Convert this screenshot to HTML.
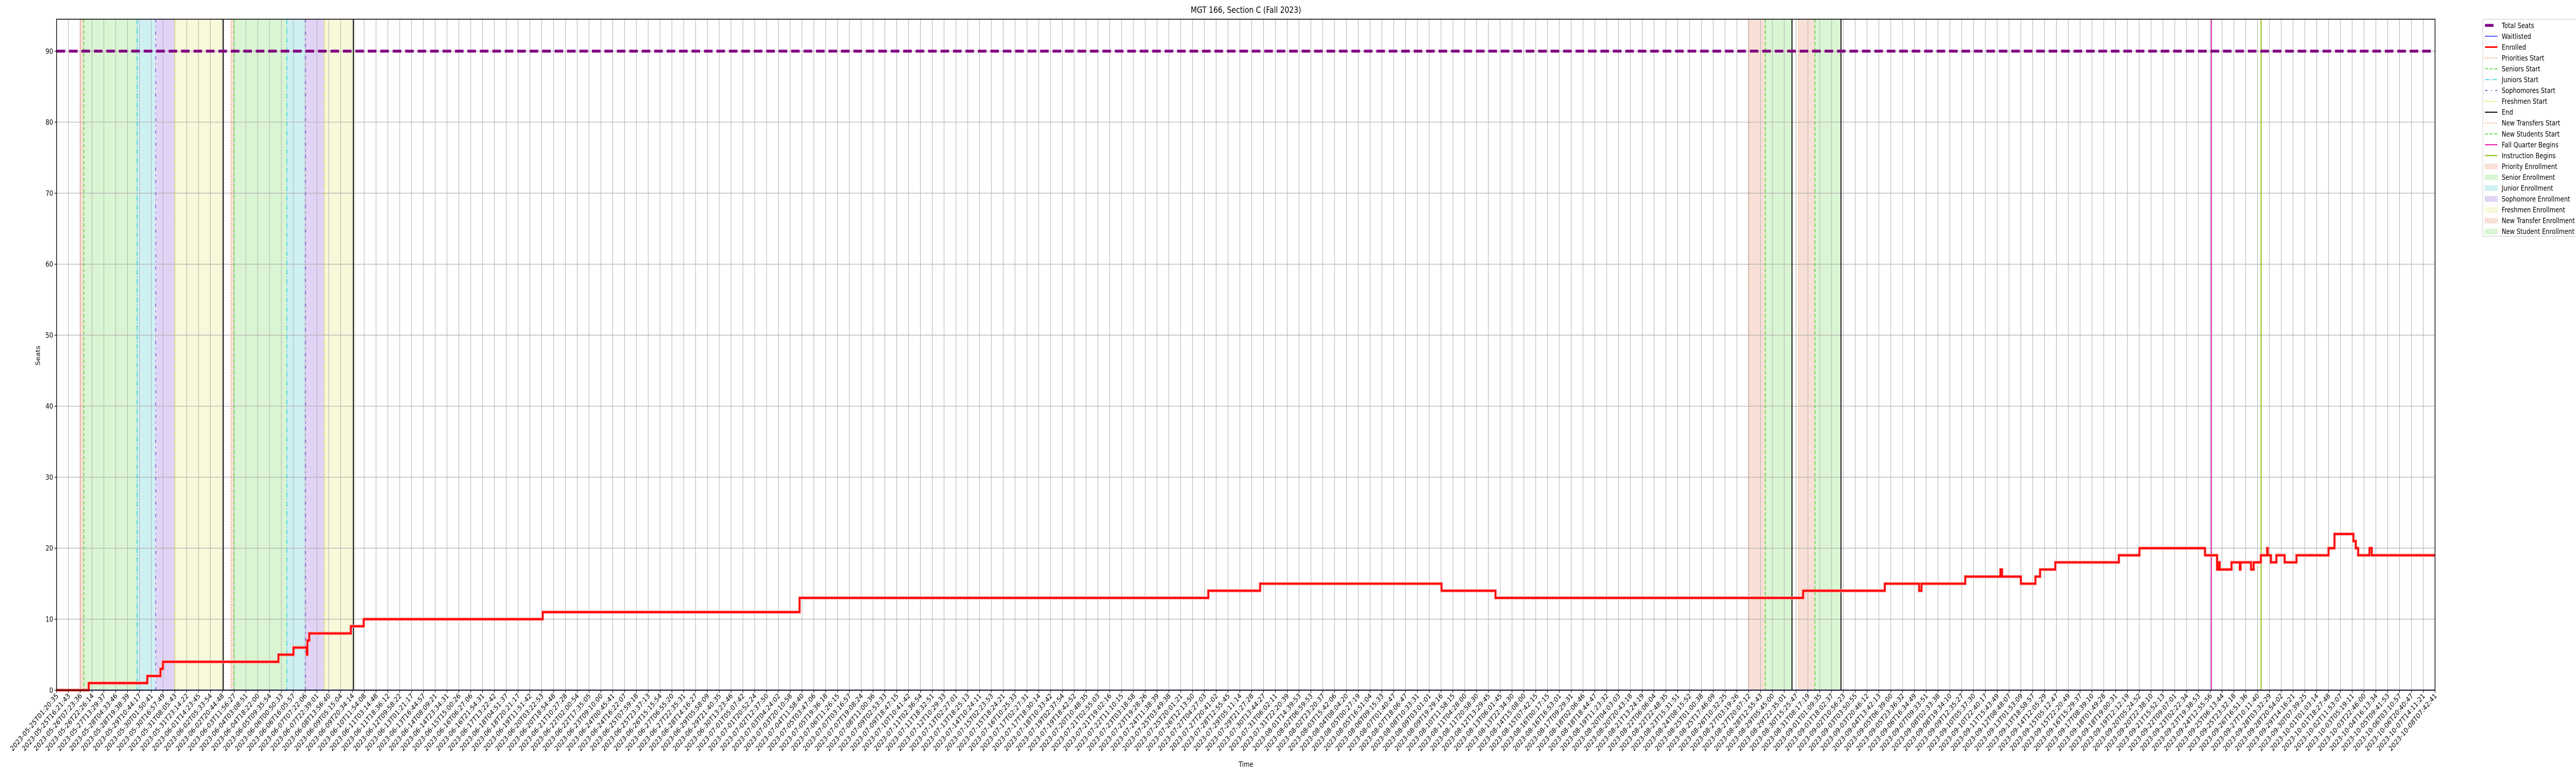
<!DOCTYPE html>
<html><head><meta charset="utf-8"><title>MGT 166, Section C (Fall 2023)</title>
<style>
html,body{margin:0;padding:0;background:#fff;overflow:hidden;width:100%;height:100%;}
svg{display:block;font-family:"DejaVu Sans","Liberation Sans",sans-serif;width:100vw;height:100vh;}
</style></head>
<body>
<svg id="chart" xmlns="http://www.w3.org/2000/svg" viewBox="0 0 6000 1500" preserveAspectRatio="none">
<rect x="0" y="0" width="6000" height="1500" fill="#fff"/>
<text x="2902" y="25" text-anchor="middle" font-size="16.7">MGT 166, Section C (Fall 2023)</text>
<text x="2902" y="1488" text-anchor="middle" font-size="13.9">Time</text>
<text x="0" y="0" transform="translate(93,690) rotate(-90)" text-anchor="middle" font-size="13.9">Seats</text>
<g id="layer-shade"></g>
<g id="layer-grid"></g>
<g id="layer-events"></g>
<g id="layer-series"></g>
<g id="layer-axes"></g>
<g id="layer-legend"></g>
</svg>
<script>
// ---- data (x in tick-index units, y in seats) ----
const tickStart = "2023-05-25T01:20:35";
const tickEnd = "2023-10-08T07:42:41";
const tickCount = 202;
const yTicks = [0,10,20,30,40,50,60,70,80,90];
const totalSeats = 90;
const waitlisted = 0;
const stepX = [0,2.72,7.67,8.78,8.99,18.75,20.02,21.15,21.2,21.35,24.87,25.96,41.08,62.79,97.33,101.71,117.04,121.6,147.6,154.5,157.4,157.6,161.3,164.27,164.41,166.0,167.23,167.62,168.91,174.28,176.02,181.56,182.58,182.73,182.8,183.8,184.5,184.56,185.45,185.67,186.28,186.81,186.86,186.92,187.13,187.59,188.29,189.29,192.0,192.5,194.1,194.3,194.5,195.46,195.65,201];
const stepY = [0,1,2,3,4,5,6,5,7,8,9,10,11,13,14,15,14,13,14,15,14,15,16,17,16,15,16,17,18,19,20,19,17,18,17,18,17,18,17,18,19,20,19,19,18,19,18,19,20,22,21,20,19,20,19,19];
const prioritiesStart = [1.99,14.75];
const seniorsStart = [2.30,15.0];
const juniorsStart = [6.80,19.46];
const sophomoresStart = [8.38,21.04];
const freshmenStart = [10.0,22.64];
const endTimes = [14.09,25.1,146.66,150.8];
const newTransfersStart = [142.97,147.2];
const newStudentsStart = [144.4,148.6];
const newPeriodEnd = [146.66,150.8];
const fallQuarterBegins = [182.1];
const instructionBegins = [186.3];
const legendLabels = ["Total Seats","Waitlisted","Enrolled","Priorities Start","Seniors Start","Juniors Start","Sophomores Start","Freshmen Start","End","New Transfers Start","New Students Start","Fall Quarter Begins","Instruction Begins","Priority Enrollment","Senior Enrollment","Junior Enrollment","Sophomore Enrollment","Freshmen Enrollment","New Transfer Enrollment","New Student Enrollment"];

// ---- layout ----
const L=131.7, R=5671.7, T=37.3, B=1339.3, yMax=94.5;
const NS="http://www.w3.org/2000/svg";
function xs(i){return L+(R-L)*i/(tickCount-1);}
function ys(v){return B-(B-T)*v/yMax;}
function mk(tag,attrs,parent){const e=document.createElementNS(NS,tag);for(const k in attrs)e.setAttribute(k,attrs[k]);parent.appendChild(e);return e;}
const gS=document.getElementById('layer-shade'),gG=document.getElementById('layer-grid'),gE=document.getElementById('layer-events'),gSe=document.getElementById('layer-series'),gA=document.getElementById('layer-axes'),gL=document.getElementById('layer-legend');

// tick labels
function pad(n){return String(n).padStart(2,'0');}
function fmt(d){return d.getUTCFullYear()+"-"+pad(d.getUTCMonth()+1)+"-"+pad(d.getUTCDate())+"T"+pad(d.getUTCHours())+":"+pad(d.getUTCMinutes())+":"+pad(d.getUTCSeconds());}
const t0=Date.parse(tickStart+"Z"), t1=Date.parse(tickEnd+"Z");
const w=[];let sw=0;for(let i=0;i<tickCount-1;i++){const v=15+2.5*i/(tickCount-2);w.push(v);sw+=v;}
const tickLabels=[];let acc=0;for(let i=0;i<tickCount;i++){tickLabels.push(fmt(new Date(t0+(t1-t0)*acc/sw)));if(i<tickCount-1)acc+=w[i];}

// shaded periods
function band(a,b,fill,name){const r=mk('rect',{x:xs(a),y:T,width:xs(b)-xs(a),height:B-T,fill:fill},gS);}
for(let k=0;k<prioritiesStart.length;k++){
band(prioritiesStart[k],seniorsStart[k],'#f8e0d6','priority-enrollment-band');
band(seniorsStart[k],juniorsStart[k],'#daf5d3','senior-enrollment-band');
band(juniorsStart[k],sophomoresStart[k],'#cef0f2','junior-enrollment-band');
band(sophomoresStart[k],freshmenStart[k],'#e0d3f5','sophomore-enrollment-band');
band(freshmenStart[k],endTimes[k],'#f8f8da','freshmen-enrollment-band');}
for(let k=0;k<newTransfersStart.length;k++){
band(newTransfersStart[k],newStudentsStart[k],'#f8e0d6','new-transfer-enrollment-band');
band(newStudentsStart[k],newPeriodEnd[k],'#daf5d3','new-student-enrollment-band');}

// grid
for(let i=0;i<tickCount;i++){const l=mk('line',{x1:xs(i),x2:xs(i),y1:T,y2:B,stroke:'#b0b0b0','stroke-width':1.2},gG);}
yTicks.forEach(v=>{const l=mk('line',{x1:L,x2:R,y1:ys(v),y2:ys(v),stroke:'#b0b0b0','stroke-width':1.2},gG);});

// event lines
function vline(i,color,dash,wid,name){const a={x1:xs(i),x2:xs(i),y1:T,y2:B,stroke:color,'stroke-width':wid};if(dash)a['stroke-dasharray']=dash;const l=mk('line',a,gE);}
prioritiesStart.forEach(i=>vline(i,'#f07030','2 3',1.5,'priorities-start-line'));
seniorsStart.forEach(i=>vline(i,'#33cc11','7 4',1.5,'seniors-start-line'));
juniorsStart.forEach(i=>vline(i,'#11c8d8','10 3 2 3',1.5,'juniors-start-line'));
sophomoresStart.forEach(i=>vline(i,'#6633cc','6 8 2 8',1.5,'sophomores-start-line'));
freshmenStart.forEach(i=>vline(i,'#dddd22','6 2 2 2 2 2',1.5,'freshmen-start-line'));
endTimes.forEach(i=>vline(i,'#000','',2.2,'end-line'));
newTransfersStart.forEach(i=>vline(i,'#f07030','2 3',1.5,'new-transfers-start-line'));
newStudentsStart.forEach(i=>vline(i,'#33cc11','7 4',1.5,'new-students-start-line'));
fallQuarterBegins.forEach(i=>vline(i,'#e010a0','',2.2,'fall-quarter-begins-line'));
instructionBegins.forEach(i=>vline(i,'#88bb00','',2.2,'instruction-begins-line'));

// series
const wl=mk('line',{x1:L,x2:R,y1:ys(waitlisted),y2:ys(waitlisted),stroke:'#2020ff','stroke-width':2},gSe);


let d='M'+xs(stepX[0])+','+ys(stepY[0]);
for(let k=1;k<stepX.length;k++){d+=' H'+xs(stepX[k])+' V'+ys(stepY[k]);}
const eg=mk('path',{d:d,fill:'none',stroke:'#ff9090','stroke-width':6,'stroke-linejoin':'miter'},gSe);


const en=mk('path',{d:d,fill:'none',stroke:'#ff0000','stroke-width':3.5},gSe);


const ts=mk('line',{x1:L,x2:R,y1:ys(totalSeats),y2:ys(totalSeats),stroke:'#800080','stroke-width':5.5,'stroke-dasharray':'20 9'},gSe);



// axes
const fr=mk('rect',{x:L,y:T,width:R-L,height:B-T,fill:'none',stroke:'#000','stroke-width':1.6},gA);


yTicks.forEach(v=>{mk('line',{x1:L-5,x2:L,y1:ys(v),y2:ys(v),stroke:'#000','stroke-width':1.2},gA);const t=mk('text',{x:L-8,y:ys(v)+5,'text-anchor':'end','font-size':13.9},gA);t.textContent=v;});
for(let i=0;i<tickCount;i++){const x=xs(i);mk('line',{x1:x,x2:x,y1:B,y2:B+5,stroke:'#000','stroke-width':1.2},gA);const t=mk('text',{transform:'translate('+(x+5)+','+(B+12)+') rotate(-45)','text-anchor':'end','font-size':13.9},gA);t.textContent=tickLabels[i];}

// legend
const lb=mk('rect',{x:5783,y:37.5,width:240,height:421,rx:3,fill:'#fff',stroke:'#d0d0d0','stroke-width':1.2},gL);


const lineStyles=[['#800080','',5.5],['#2020ff','',1.5],['#ff0000','',3],['#f07030','2 3',1.5],['#33cc11','7 4',1.5],['#11c8d8','10 3 2 3',1.5],['#6633cc','6 8 2 8',1.5],['#dddd22','6 2 2 2 2 2',1.5],['#000','',2],['#f07030','2 3',1.5],['#33cc11','7 4',1.5],['#e010a0','',2],['#88bb00','',2]];
const patchFills=['#f8e0d6','#daf5d3','#cef0f2','#e0d3f5','#f8f8da','#f8e0d6','#daf5d3'];
legendLabels.forEach((lab,k)=>{const cy=49.3+k*21.05;
 if(k<lineStyles.length){const s=lineStyles[k];const a={x1:5788,x2:k==0?5808:5817,y1:cy,y2:cy,stroke:s[0],'stroke-width':s[2]};if(s[1])a['stroke-dasharray']=s[1];const l=mk('line',a,gL);}
 else{const r=mk('rect',{x:5788,y:cy-5,width:29,height:10,fill:patchFills[k-lineStyles.length],stroke:patchFills[k-lineStyles.length]},gL);}
 const t=mk('text',{x:5827,y:cy+5,'font-size':13.9},gL);t.textContent=lab;});
</script>
</body></html>
